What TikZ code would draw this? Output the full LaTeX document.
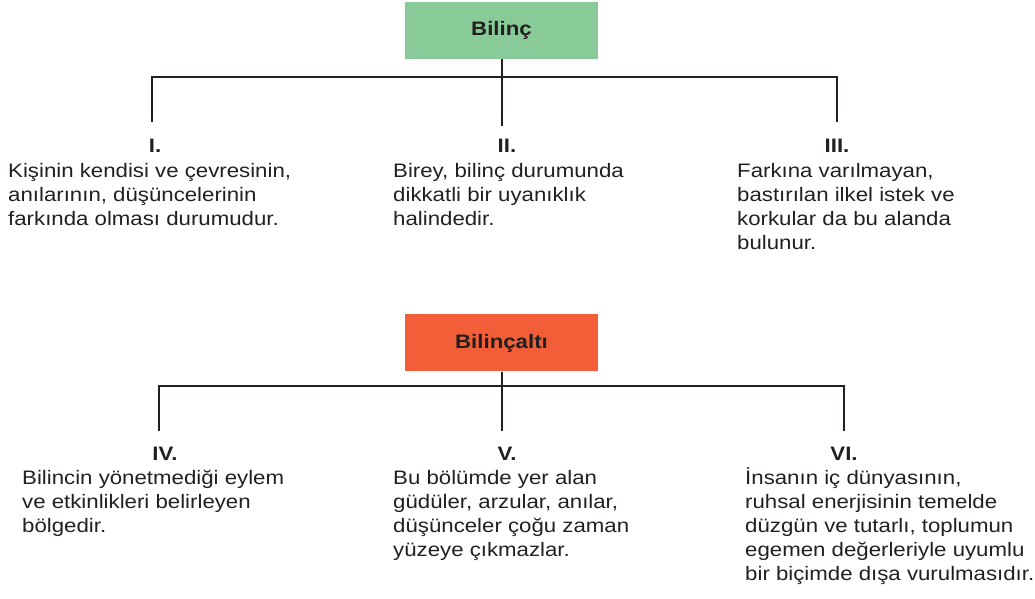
\documentclass[tikz,border=0pt]{standalone}
\usepackage{fontspec}
\setmainfont[FakeStretch=1.14]{Liberation Sans}
\definecolor{ink}{HTML}{231F20}
\definecolor{boxgreen}{HTML}{88CB98}
\definecolor{boxorange}{HTML}{F15E38}
\begin{document}
\begin{tikzpicture}[x=1pt,y=1pt,
  txt/.style={anchor=base west, align=left, inner sep=0pt, text=ink, font=\fontsize{19.5}{24}\selectfont},
  lbl/.style={anchor=base, inner sep=0pt, text=ink, font=\fontsize{19.5}{24}\selectfont\bfseries},
  head/.style={minimum width=193pt, minimum height=57pt, inner sep=0pt, text=ink, font=\fontsize{19.5}{24}\selectfont\bfseries},
  conn/.style={draw=ink, line width=2pt}]
\useasboundingbox (0,0) rectangle (1035,599);

% ---- top tree
\node[head, fill=boxgreen] (b1) at (501.5,568.5) {Bilinç};
\coordinate (j1) at (501.5,522);
\coordinate (l1) at (152,522);
\coordinate (r1) at (837,522);
\coordinate (l1e) at (152,477);
\coordinate (m1e) at (501.5,473);
\coordinate (r1e) at (837,477);
\draw[conn] (l1e) -- (l1) -- (r1) -- (r1e);
\draw[conn] (b1.south) -- (j1) -- (m1e);

\node[lbl] (n1) at (155,446) {I.};
\node[lbl] (n2) at (507,446) {II.};
\node[lbl] (n3) at (837,446) {III.};

% base anchor = baseline of last line
\node[txt] (t1) at (8,373) {Kişinin kendisi ve çevresinin,\\anılarının, düşüncelerinin\\farkında olması durumudur.};
\node[txt] (t2) at (393,373) {Birey, bilinç durumunda\\dikkatli bir uyanıklık\\halindedir.};
\node[txt] (t3) at (737,349) {Farkına varılmayan,\\bastırılan ilkel istek ve\\korkular da bu alanda\\bulunur.};

% ---- bottom tree
\node[head, fill=boxorange] (b2) at (501.5,256) {Bilinçaltı};
\coordinate (j2) at (501.5,213);
\coordinate (l2) at (159,213);
\coordinate (r2) at (844,213);
\coordinate (l2e) at (159,168);
\coordinate (m2e) at (501.5,168);
\coordinate (r2e) at (844,168);
\draw[conn] (l2e) -- (l2) -- (r2) -- (r2e);
\draw[conn] (b2.south) -- (j2) -- (m2e);

\node[lbl] (n4) at (165,138) {IV.};
\node[lbl] (n5) at (507,138) {V.};
\node[lbl] (n6) at (844,138) {VI.};

\node[txt] (t4) at (22,66) {Bilincin yönetmediği eylem\\ve etkinlikleri belirleyen\\bölgedir.};
\node[txt] (t5) at (393,42) {Bu bölümde yer alan\\güdüler, arzular, anılar,\\düşünceler çoğu zaman\\yüzeye çıkmazlar.};
\node[txt] (t6) at (745,18) {İnsanın iç dünyasının,\\ruhsal enerjisinin temelde\\düzgün ve tutarlı, toplumun\\egemen değerleriyle uyumlu\\bir biçimde dışa vurulmasıdır.};
\end{tikzpicture}
\end{document}
